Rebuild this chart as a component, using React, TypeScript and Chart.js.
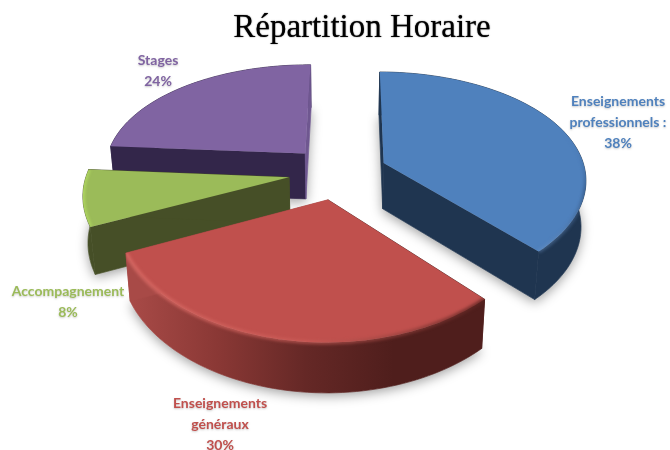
import React, { useEffect, useRef } from "react";
import { Chart, registerables } from "chart.js";

Chart.register(...registerables);

// ---- data ----
const categories = ["Enseignements professionnels :", "Enseignements généraux", "Accompagnement", "Stages"];
const values = [38, 30, 8, 24];
const labelLines = [
  ["Enseignements", "professionnels :", "38%"],
  ["Enseignements", "généraux", "30%"],
  ["Accompagnement", "8%"],
  ["Stages", "24%"],
];
const colors = ["#4f81bd", "#c0504d", "#9bbb59", "#8064a2"];
const titleText = "Répartition Horaire";

// ---- styles / layout ----
const wallStops = [
  ["#1f3550", "#1f3550"],
  ["#a84a47", "#8a3835", "#652826", "#4f1e1c", "#4f1e1c"],
  ["#464f27", "#464f27"],
  ["#33264a", "#33264a"],
];
const endWallColors = ["#1f3550", "#a84a47", "#464f27", "#6f5790"];
const bevelStops = [
  ["rgba(79,129,189,0)", "rgba(79,129,189,0)", "rgba(40,70,110,.55)", "rgba(110,150,200,.4)"],
  ["rgba(214,104,99,.9)", "rgba(205,95,90,.6)", "rgba(90,35,32,.8)"],
  ["rgba(176,216,96,.9)", "rgba(176,216,96,.9)"],
  ["rgba(128,100,162,0)", "rgba(128,100,162,0)"],
];
const bevelVertical = [true, false, true, false];
const labelAnchors = [
  { x: 618, y: 101 },
  { x: 220, y: 403 },
  { x: 68, y: 291 },
  { x: 158, y: 60 },
];
const drawOrder = [3, 0, 2, 1];
const PROJ = { cx: 338, cy: 172.5, rx: 202, ry: 109, kx: 0.135, ky: 0.165, depth: 46, shrink: 0.98, explode: 0.245 };

type P = { x: number; y: number };

function project(X: number, Y: number, bottom: boolean): P {
  const wx = 1 / (1 - PROJ.kx * Y);
  const wy = 1 / (1 - PROJ.ky * Y);
  let x = PROJ.cx + X * PROJ.rx * wx;
  let y = PROJ.cy + Y * PROJ.ry * wy;
  if (bottom) {
    x = PROJ.cx + (x - PROJ.cx) * PROJ.shrink;
    y += PROJ.depth * Math.sqrt(wx);
  }
  return { x, y };
}

function addPoly(ctx: CanvasRenderingContext2D, pts: P[]) {
  pts.forEach((p, i) => (i ? ctx.lineTo(p.x, p.y) : ctx.moveTo(p.x, p.y)));
  ctx.closePath();
}

function fillPoly(ctx: CanvasRenderingContext2D, pts: P[], paint: any) {
  ctx.beginPath();
  addPoly(ctx, pts);
  ctx.fillStyle = paint;
  ctx.strokeStyle = paint;
  ctx.lineWidth = 0.7;
  ctx.fill();
  ctx.stroke();
}

function stopsGradient(ctx: CanvasRenderingContext2D, pts: P[], stops: string[], vertical = false) {
  const vs = pts.map((p) => (vertical ? p.y : p.x));
  const lo = Math.min(...vs);
  const hi = Math.max(...vs);
  const g = vertical ? ctx.createLinearGradient(0, lo, 0, hi) : ctx.createLinearGradient(lo, 0, hi, 0);
  stops.forEach((c, i) => g.addColorStop(i / (stops.length - 1), c));
  return g;
}

const pie3d = {
  id: "pie3d",
  beforeDraw(chart: any) {
    // slightly heavier title strokes
    const ctx: CanvasRenderingContext2D = chart.ctx;
    ctx.shadowColor = "rgba(0,0,0,.85)";
    ctx.shadowBlur = 1.2;
  },
  beforeDatasetsDraw(chart: any) {
    const ctx: CanvasRenderingContext2D = chart.ctx;
    ctx.shadowColor = "transparent";
    ctx.shadowBlur = 0;
    const arcs = chart.getDatasetMeta(0).data;
    const shapes = arcs.map((el: any) => {
      const { startAngle, endAngle } = el.getProps(["startAngle", "endAngle"], true);
      const mid = (startAngle + endAngle) / 2;
      const ox = Math.cos(mid) * PROJ.explode;
      const oy = Math.sin(mid) * PROJ.explode;
      const world: [number, number][] = [[ox, oy]];
      const n = 64;
      for (let i = 0; i <= n; i++) {
        const a = startAngle + ((endAngle - startAngle) * i) / n;
        world.push([ox + Math.cos(a), oy + Math.sin(a)]);
      }
      return {
        top: world.map(([X, Y]) => project(X, Y, false)),
        bot: world.map(([X, Y]) => project(X, Y, true)),
      };
    });

    // soft ground shadow
    ctx.save();
    ctx.shadowColor = "rgba(0,0,0,.38)";
    ctx.shadowBlur = 12;
    ctx.shadowOffsetY = 3;
    ctx.fillStyle = "#fff";
    drawOrder.forEach((i) => {
      ctx.beginPath();
      addPoly(ctx, shapes[i].bot);
      ctx.fill();
    });
    ctx.restore();

    drawOrder.forEach((i) => {
      const { top, bot } = shapes[i];
      const m = top.length;
      const wall = stopsGradient(ctx, bot, wallStops[i]);
      const wallPolys = [
        [top[0], top[1], bot[1], bot[0]],
        [...top.slice(1), ...bot.slice(1).reverse()],
      ];
      wallPolys.forEach((poly) => fillPoly(ctx, poly, wall));
      fillPoly(ctx, [top[0], top[m - 1], bot[m - 1], bot[0]], endWallColors[i]);
      ctx.beginPath();
      addPoly(ctx, top);
      ctx.fillStyle = colors[i];
      ctx.fill();

      // rounded rim along the outer arc, kept inside the slice
      ctx.save();
      ctx.beginPath();
      addPoly(ctx, top);
      addPoly(ctx, wallPolys[1]);
      ctx.clip("nonzero");
      (ctx as any).filter = "blur(1.6px)";
      ctx.beginPath();
      top.slice(1).forEach((p, j) => (j ? ctx.lineTo(p.x, p.y) : ctx.moveTo(p.x, p.y)));
      ctx.strokeStyle = stopsGradient(ctx, top, bevelStops[i], bevelVertical[i]);
      ctx.lineWidth = 4;
      ctx.stroke();
      ctx.restore();
    });
    return false;
  },
  afterDraw(chart: any) {
    const ctx: CanvasRenderingContext2D = chart.ctx;
    ctx.save();
    ctx.font = "bold 14px Lato";
    ctx.textAlign = "center";
    ctx.textBaseline = "middle";
    ctx.shadowColor = "rgba(0,0,0,.22)";
    ctx.shadowBlur = 2;
    ctx.shadowOffsetY = 1;
    labelLines.forEach((lines, i) => {
      ctx.fillStyle = colors[i];
      lines.forEach((line, j) => ctx.fillText(line, labelAnchors[i].x, labelAnchors[i].y + j * 21));
    });
    ctx.restore();
  },
};

export default function App() {
  const ref = useRef<HTMLCanvasElement>(null);
  useEffect(() => {
    const chart = new Chart(ref.current!, {
      type: "pie",
      data: {
        labels: categories,
        datasets: [{ data: values, backgroundColor: colors, borderWidth: 0 }],
      },
      options: {
        animation: false,
        responsive: false,
        rotation: 0.5,
        layout: { padding: { left: 54 } },
        plugins: {
          legend: { display: false },
          tooltip: { enabled: false },
          title: {
            display: true,
            text: titleText,
            fullSize: false,
            color: "#000",
            font: { family: "'Liberation Serif'", size: 33, weight: "normal" },
            padding: { top: 9, bottom: 4 },
          },
        },
      },
      plugins: [pie3d],
    } as any);
    return () => chart.destroy();
  }, []);
  return (
    <canvas
      ref={ref}
      width={670}
      height={450}
      style={{ position: "absolute", left: 0, top: 0, display: "block", background: "#fff" }}
    />
  );
}
